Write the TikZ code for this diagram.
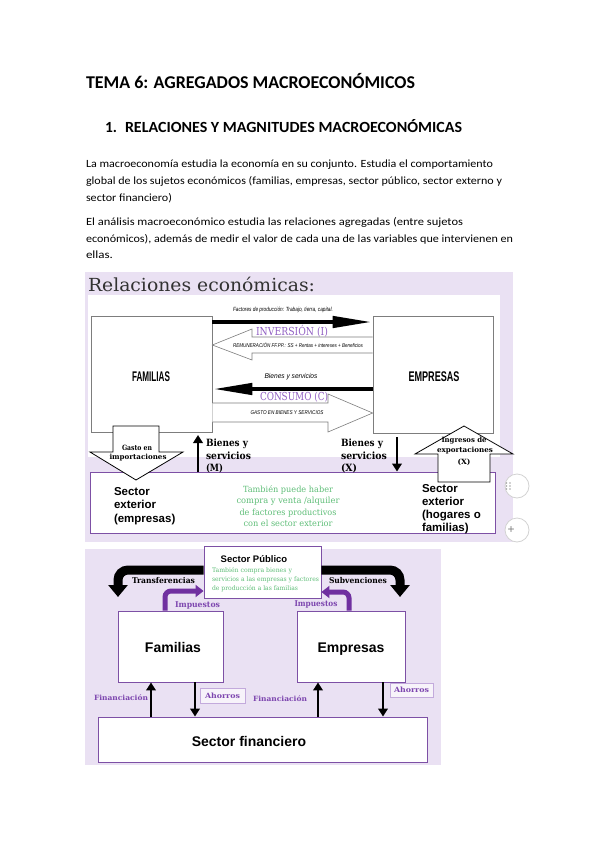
\documentclass[tikz,border=0pt]{standalone}
\usepackage{graphicx}
\usepackage{fontspec}
\setmainfont{Carlito}
\newfontfamily\arialf{Liberation Sans}
\newfontfamily\serf{DejaVu Serif}
\usetikzlibrary{arrows.meta}
\newcommand\W[2]{\resizebox{#1pt}{\height}{#2}}
\newcommand\fs[1]{\fontsize{#1}{#1}\selectfont}
\definecolor{lav}{RGB}{234,225,243}
\definecolor{pbord}{RGB}{125,80,165}
\definecolor{invp}{RGB}{145,95,195}
\definecolor{impp}{RGB}{112,48,160}
\definecolor{txtp}{RGB}{125,70,175}
\definecolor{green2}{RGB}{95,190,120}
\definecolor{abord}{RGB}{195,170,220}
\definecolor{boxgray}{RGB}{125,125,125}
\definecolor{titgray}{RGB}{50,50,50}
\begin{document}
\begin{tikzpicture}[x=1pt,y=-1pt,
  txt/.style={inner sep=0pt, outer sep=0pt},
  gbox/.style={draw=boxgray, line width=0.7pt, fill=white, inner sep=0pt},
  pbox/.style={draw=pbord, line width=0.9pt, fill=white, inner sep=0pt},
  abox/.style={draw=abord, line width=0.7pt, fill=lav!40!white, inner sep=0pt},
  bigarrow/.style={line width=4.5pt, -{Triangle[length=40pt,width=11pt]}},
  hollow/.style={draw=boxgray, line width=0.6pt, fill=white},
  blockarr/.style={draw=black, line width=0.8pt, fill=white},
  varrow/.style={line width=2.6pt, -{Triangle[length=8pt,width=9.5pt]}},
  curvearr/.style={line width=9pt, rounded corners=10pt, -{Triangle[length=12pt,width=19pt]}},
  impuarr/.style={draw=impp, line width=5pt, rounded corners=6pt, -{Triangle[length=8pt,width=12pt]}}]
\useasboundingbox[fill=white] (0,0) rectangle (599,848);

% ---------- page text ----------
\node[txt, anchor=base west] (title) at (86,89) {\W{329}{\bfseries\fs{18}TEMA 6: AGREGADOS MACROECONÓMICOS}};
\node[txt, anchor=base west] (hnum) at (105,132) {\bfseries\fs{15.5}1.};
\node[txt, anchor=base west] (head) at (125,132) {\W{337}{\bfseries\fs{15.5}RELACIONES Y MAGNITUDES MACROECONÓMICAS}};
\node[txt, anchor=base west] (p1) at (86,167) {\W{407}{\fs{11}La macroeconomía estudia la economía en su conjunto. Estudia el comportamiento}};
\node[txt, anchor=base west] (p2) at (86,184) {\W{416}{\fs{11}global de los sujetos económicos (familias, empresas, sector público, sector externo y}};
\node[txt, anchor=base west] (p3) at (86,201) {\W{86}{\fs{11}sector financiero)}};
\node[txt, anchor=base west] (p4) at (86,225) {\W{377}{\fs{11}El análisis macroeconómico estudia las relaciones agregadas (entre sujetos}};
\node[txt, anchor=base west] (p5) at (86,242) {\W{427}{\fs{11}económicos), además de medir el valor de cada una de las variables que intervienen en}};
\node[txt, anchor=base west] (p6) at (86,258) {\W{27}{\fs{11}ellas.}};

% ---------- picture 1 ----------
\fill[lav] (85,272) rectangle (513,542);
\node[txt, anchor=west, text=titgray] (reltitle) at (88,284) {\W{227}{\serf\fs{18}Relaciones económicas:}};
\fill[white] (88,295) rectangle (500,457);

\node[gbox, minimum width=121pt, minimum height=116pt] (fam1) at (151.5,374) {};
\node[gbox, minimum width=120pt, minimum height=117pt] (emp1) at (433,374.5) {};
\node[txt, anchor=base] (lfam1) at (151,381) {\W{38}{\arialf\bfseries\fs{14}FAMILIAS}};
\node[txt, anchor=base] (lemp1) at (434,381) {\W{51}{\arialf\bfseries\fs{14}EMPRESAS}};

\node[txt] (lfact) at (283,310) {\W{100}{\arialf\itshape\fs{6}Factores de producción: Trabajo, tierra, capital.}};
\draw[bigarrow] (fam1.east |- 0,322) -- (emp1.west |- 0,322);

\draw[hollow] (emp1.west |- 0,337) -- (252,337) -- (252,329) -- (fam1.east |- 0,345) -- (252,360) -- (252,353) -- (emp1.west |- 0,353);
\node[txt, text=invp] (linv) at (292,331) {\W{72}{\serf\fs{11}INVERSIÓN (I)}};
\node[txt] (lrem) at (298,345) {\W{130}{\arialf\itshape\fs{5.5}REMUNERACIÓN FF.PP.: SS + Rentas + intereses + Beneficios}};

\node[txt] (lbys) at (291,377) {\W{53}{\arialf\itshape\fs{7}Bienes y servicios}};
\draw[bigarrow] (emp1.west |- 0,389) -- (fam1.east |- 0,389);

\draw[hollow] (fam1.east |- 0,403) -- (328,403) -- (328,394) -- (emp1.west |- 0,413) -- (328,432) -- (328,422) -- (fam1.east |- 0,422);
\node[txt, text=invp] (lcons) at (294,397) {\W{68}{\serf\fs{11}CONSUMO (C)}};
\node[txt] (lgasto) at (287,413) {\W{73}{\arialf\itshape\fs{5.5}GASTO EN BIENES Y SERVICIOS}};

\node[pbox, minimum width=405pt, minimum height=61pt] (sext) at (292.5,502.5) {};

\draw[blockarr] (113,426) -- (159,426) -- (159,452) -- (183,452) -- (136,480) -- (90,452) -- (113,452) -- cycle;
\node[txt] (lgi1) at (137,448) {\W{30}{\serf\bfseries\fs{7.2}Gasto en}};
\node[txt] (lgi2) at (138,458) {\W{57}{\serf\bfseries\fs{7.2}importaciones}};

\draw[blockarr] (438,482) -- (438,454) -- (415,454) -- (464,426) -- (513,454) -- (490,454) -- (490,482) -- cycle;
\node[txt] (lie1) at (464,441) {\W{45}{\serf\bfseries\fs{7.2}Ingresos de}};
\node[txt] (lie2) at (465,451) {\W{56}{\serf\bfseries\fs{7.2}exportaciones}};
\node[txt] (lie3) at (464,462) {\W{13}{\serf\bfseries\fs{7.2}(X)}};

\coordinate (mtop) at (198,435);
\draw[varrow] (sext.north -| mtop) -- (mtop);
\node[txt, anchor=base west] (lm1) at (206,446) {\W{42}{\serf\bfseries\fs{10}Bienes y}};
\node[txt, anchor=base west] (lm2) at (206,459) {\W{45}{\serf\bfseries\fs{10}servicios}};
\node[txt, anchor=base west] (lm3) at (206,471) {\W{17}{\serf\bfseries\fs{10}(M)}};

\coordinate (xtop) at (397,437);
\draw[varrow] (xtop) -- (sext.north -| xtop);
\node[txt, anchor=base west] (lx1) at (341,446) {\W{42}{\serf\bfseries\fs{10}Bienes y}};
\node[txt, anchor=base west] (lx2) at (341,459) {\W{46}{\serf\bfseries\fs{10}servicios}};
\node[txt, anchor=base west] (lx3) at (341,471) {\W{16}{\serf\bfseries\fs{10}(X)}};

\node[txt, anchor=base west] (se1) at (114,495) {\arialf\bfseries\fs{11.5}Sector};
\node[txt, anchor=base west] (se2) at (114,508) {\arialf\bfseries\fs{11.5}exterior};
\node[txt, anchor=base west] (se3) at (114,522) {\arialf\bfseries\fs{11.5}(empresas)};
\node[txt, anchor=base west] (sh1) at (422,492) {\arialf\bfseries\fs{11.5}Sector};
\node[txt, anchor=base west] (sh2) at (422,505) {\arialf\bfseries\fs{11.5}exterior};
\node[txt, anchor=base west] (sh3) at (422,518) {\arialf\bfseries\fs{11.5}(hogares o};
\node[txt, anchor=base west] (sh4) at (422,531) {\arialf\bfseries\fs{11.5}familias)};

\node[txt, anchor=base, text=green2] (g1) at (288,492) {\W{90}{\serf\fs{8.5}También puede haber}};
\node[txt, anchor=base, text=green2] (g2) at (288,503) {\W{103}{\serf\fs{8.5}compra y venta /alquiler}};
\node[txt, anchor=base, text=green2] (g3) at (288,515) {\W{97}{\serf\fs{8.5}de factores productivos}};
\node[txt, anchor=base, text=green2] (g4) at (288,526) {\W{89}{\serf\fs{8.5}con el sector exterior}};

% side buttons
\fill[white] (517,486) circle[radius=12pt];
\draw[gray!35, line width=0.8pt] (517,486) circle[radius=12pt];
\foreach \dx in {0,3.5}{\foreach \dy in {-3,0,3}{\fill[gray!70] (506.5+\dx,486+\dy) circle[radius=0.9pt];}}
\fill[white] (517,530) circle[radius=12pt];
\draw[gray!35, line width=0.8pt] (517,530) circle[radius=12pt];
\node[txt, text=gray] (plus) at (511,530) {\arialf\fs{12}+};

% ---------- picture 2 ----------
\fill[lav] (85,549) rectangle (441,765);
\node[pbox, minimum width=117pt, minimum height=52pt] (sp) at (262.5,572) {};
\node[txt] (lsp) at (254,559) {\arialf\bfseries\fs{9.5}Sector Público};
\node[txt, anchor=base west, text=green2] (sg1) at (212,572) {\W{80}{\serf\fs{6.3}También compra bienes y}};
\node[txt, anchor=base west, text=green2] (sg2) at (212,581) {\W{107}{\serf\fs{6.3}servicios a las empresas y factores}};
\node[txt, anchor=base west, text=green2] (sg3) at (212,590) {\W{86}{\serf\fs{6.3}de producción a las familias}};

\node[pbox, minimum width=105pt, minimum height=71pt] (fam2) at (170.5,646.5) {};
\node[pbox, minimum width=108pt, minimum height=71pt] (emp2) at (351,646.5) {};
\node[txt, anchor=base] (lfam2) at (173,652) {\arialf\bfseries\fs{14}Familias};
\node[txt, anchor=base] (lemp2) at (351,652) {\arialf\bfseries\fs{14}Empresas};
\node[pbox, minimum width=329pt, minimum height=45pt] (sfin) at (262.5,739.5) {};
\node[txt, anchor=base] (lsfin) at (249,746) {\arialf\bfseries\fs{14}Sector financiero};

\coordinate (trend) at (118,597);
\coordinate (subend) at (400,597);
\draw[curvearr] (sp.west |- 0,570) -- (trend |- 0,570) -- (trend);
\draw[curvearr] (sp.east |- 0,570) -- (subend |- 0,570) -- (subend);
\node[txt] (ltr) at (163.5,581) {\W{63}{\serf\bfseries\fs{8}Transferencias}};
\node[txt] (lsub) at (358,581) {\W{58}{\serf\bfseries\fs{8}Subvenciones}};

\draw[impuarr] (fam2.north -| 165,0) -- (165,591) -- (sp.west |- 0,591);
\draw[impuarr] (emp2.north -| 349,0) -- (349,592) -- (sp.east |- 0,592);
\node[txt, text=txtp] (limp1) at (197.5,605) {\W{45}{\serf\bfseries\fs{8}Impuestos}};
\node[txt, text=txtp] (limp2) at (316,604) {\W{43}{\serf\bfseries\fs{8}Impuestos}};

\draw[varrow] (sfin.north -| 151,0) -- (fam2.south -| 151,0);
\draw[varrow] (fam2.south -| 195,0) -- (sfin.north -| 195,0);
\draw[varrow] (sfin.north -| 318,0) -- (emp2.south -| 318,0);
\draw[varrow] (emp2.south -| 383,0) -- (sfin.north -| 383,0);

\node[txt, text=txtp] (lfin1) at (121,698) {\W{54}{\serf\bfseries\fs{7.2}Financiación}};
\node[txt, text=txtp] (lfin2) at (280,699) {\W{54}{\serf\bfseries\fs{7.2}Financiación}};
\node[abox, minimum width=45pt, minimum height=15pt, text=txtp] (ah1) at (222.5,695.5) {\W{35}{\serf\bfseries\fs{7.2}Ahorros}};
\node[abox, minimum width=43pt, minimum height=14pt, text=txtp] (ah2) at (411.5,690) {\W{35}{\serf\bfseries\fs{7.2}Ahorros}};
\end{tikzpicture}
\end{document}
